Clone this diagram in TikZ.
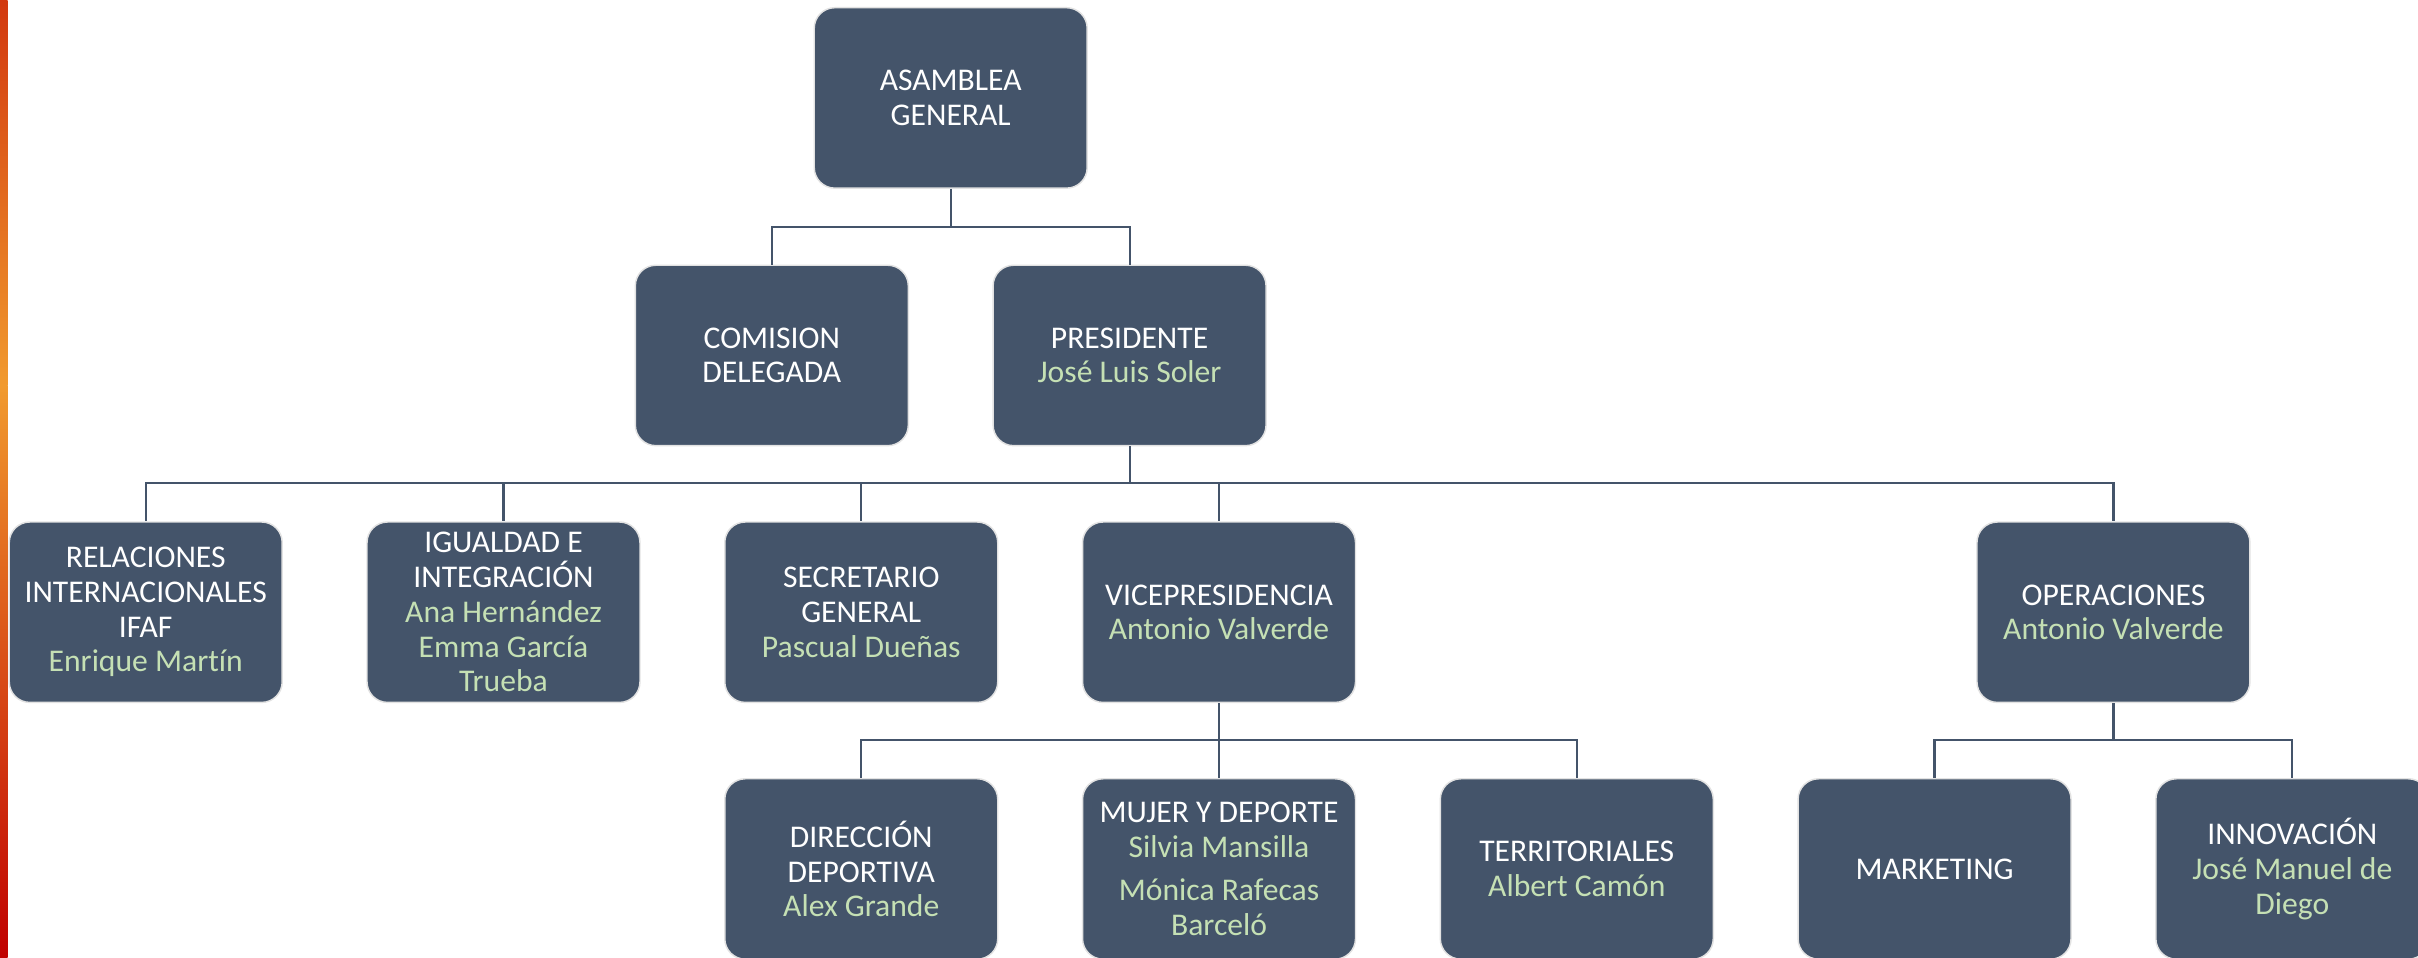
\documentclass[tikz,border=0pt]{standalone}
\usepackage{fontspec}
\setmainfont{Carlito}[Ligatures=NoCommon]
\definecolor{pizarra}{HTML}{44546A}
\definecolor{borde}{HTML}{E2E2E2}
\definecolor{verde}{HTML}{C5E0B4}
\definecolor{rojo}{HTML}{C00000}
\definecolor{naranja}{HTML}{F19A2E}
\definecolor{rojizo}{HTML}{D2380F}
\newcommand{\persona}[1]{\textcolor{verde}{#1}}

\begin{document}
\begin{tikzpicture}[x=0.3mm, y=-0.3mm,
    cargo/.style={draw=borde, line width=0.8pt, fill=pizarra, rounded corners=4mm,
      minimum width=53.1mm, minimum height=35.1mm, inner sep=0pt, align=center,
      text=white, font=\fontsize{17.5}{19.2}\selectfont},
    linea/.style={draw=pizarra, line width=1.2pt}]
  \useasboundingbox (0,0) rectangle (1568,621);
  \fill[white] (0,0) rectangle (1568,621);
  % barra lateral
  \shade[top color=rojizo, bottom color=naranja] (0,0) rectangle (5,250);
  \shade[top color=naranja, bottom color=rojo] (0,250) rectangle (5,621);

  \node[cargo] (asamblea) at (616.5,63.5) {ASAMBLEA\\GENERAL};
  \node[cargo] (comision) at (500.5,230.5) {COMISION\\DELEGADA};
  \node[cargo] (presidente) at (732.5,230.5) {PRESIDENTE\\\persona{José Luis Soler}};

  \node[cargo] (relaciones) at (94.5,397) {RELACIONES\\INTERNACIONALES\\IFAF\\\persona{Enrique Martín}};
  \node[cargo] (igualdad) at (326.5,397) {IGUALDAD E\\INTEGRACIÓN\\\persona{Ana Hernández}\\\persona{Emma García}\\\persona{Trueba}};
  \node[cargo] (secretario) at (558.5,397) {SECRETARIO\\GENERAL\\\persona{Pascual Dueñas}};
  \node[cargo] (vice) at (790.5,397) {VICEPRESIDENCIA\\\persona{Antonio Valverde}};
  \node[cargo] (operaciones) at (1370.5,397) {OPERACIONES\\\persona{Antonio Valverde}};

  \node[cargo] (direccion) at (558.5,563.5) {DIRECCIÓN\\DEPORTIVA\\\persona{Alex Grande}};
  \node[cargo] (mujer) at (790.5,563.5) {MUJER Y DEPORTE\\\persona{Silvia Mansilla}\\[5pt]\persona{Mónica Rafecas}\\\persona{Barceló}};
  \node[cargo] (territoriales) at (1022.5,563.5) {TERRITORIALES\\\persona{Albert Camón}};
  \node[cargo] (marketing) at (1254.5,563.5) {MARKETING};
  \node[cargo] (innovacion) at (1486.5,563.5) {INNOVACIÓN\\\persona{José Manuel de}\\\persona{Diego}};

  % conectores
  \draw[linea] (asamblea.south) -- ++(0,25) -| (comision.north);
  \draw[linea] (asamblea.south) -- ++(0,25) -| (presidente.north);
  \foreach \hijo in {relaciones, igualdad, secretario, vice, operaciones}
    \draw[linea] (presidente.south) -- ++(0,24) -| (\hijo.north);
  \foreach \hijo in {direccion, mujer, territoriales}
    \draw[linea] (vice.south) -- ++(0,24) -| (\hijo.north);
  \foreach \hijo in {marketing, innovacion}
    \draw[linea] (operaciones.south) -- ++(0,24) -| (\hijo.north);
\end{tikzpicture}
\end{document}
